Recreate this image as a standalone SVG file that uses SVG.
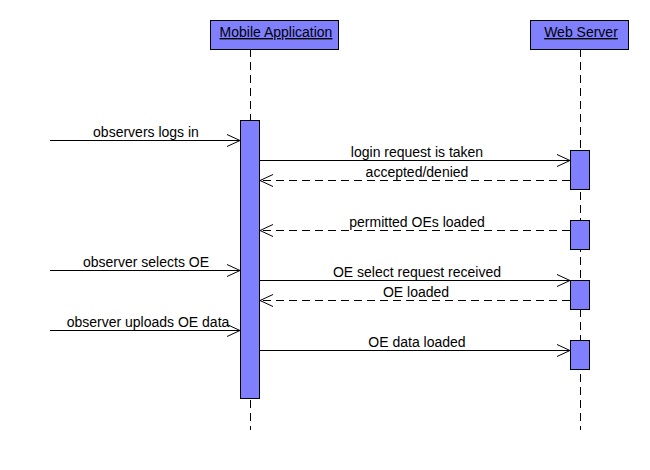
<svg xmlns="http://www.w3.org/2000/svg" width="650" height="470" viewBox="0 0 650 470">
<style>
.box{fill:#8080FF;stroke:#000;stroke-width:1}
.life{stroke:#000;stroke-width:1;stroke-dasharray:8 5;fill:none}
.msg{stroke:#000;stroke-width:1;fill:none}
.ret{stroke:#000;stroke-width:1;fill:none;stroke-dasharray:8 5}
.head{stroke:#000;stroke-width:1;fill:none}
text{font-family:"Liberation Sans",Arial,sans-serif;font-size:14px;fill:#000}
.lbl{text-anchor:middle}
.title{text-anchor:middle;text-decoration:underline}
</style>
<rect width="650" height="470" fill="#fff"/>
<g id="mobile">
<line class="life" x1="250.5" y1="49" x2="250.5" y2="430"/>
<rect class="box" x="210.5" y="20.5" width="128" height="29"/>
<text class="title" x="276" y="37">Mobile Application</text>
<rect class="box" x="240.5" y="120.5" width="19" height="278"/>
</g>
<g id="webserver">
<line class="life" x1="580.5" y1="49" x2="580.5" y2="430"/>
<rect class="box" x="530.5" y="20.5" width="98" height="29"/>
<text class="title" x="581" y="37">Web Server</text>
<rect class="box" x="570.5" y="150.5" width="19" height="39"/>
<rect class="box" x="570.5" y="220.5" width="19" height="29"/>
<rect class="box" x="570.5" y="280.5" width="19" height="29"/>
<rect class="box" x="570.5" y="340.5" width="19" height="29"/>
</g>
<g id="connectors">
<line class="msg" x1="50" y1="140.5" x2="240" y2="140.5"/>
<polyline class="head" points="227,134.5 240,140.5 227,146.5"/>
<text class="lbl" x="146" y="137">observers logs in</text>

<line class="msg" x1="260" y1="160.5" x2="570" y2="160.5"/>
<polyline class="head" points="557,154.5 570,160.5 557,166.5"/>
<text class="lbl" x="417" y="157">login request is taken</text>

<line class="ret" x1="570" y1="180.5" x2="260" y2="180.5"/>
<polyline class="head" points="273,174.5 260,180.5 273,186.5"/>
<text class="lbl" x="417" y="177">accepted/denied</text>

<line class="ret" x1="570" y1="230.5" x2="260" y2="230.5"/>
<polyline class="head" points="273,224.5 260,230.5 273,236.5"/>
<text class="lbl" x="417" y="227">permitted OEs loaded</text>

<line class="msg" x1="50" y1="270.5" x2="240" y2="270.5"/>
<polyline class="head" points="227,264.5 240,270.5 227,276.5"/>
<text class="lbl" x="146" y="267">observer selects OE</text>

<line class="msg" x1="260" y1="280.5" x2="570" y2="280.5"/>
<polyline class="head" points="557,274.5 570,280.5 557,286.5"/>
<text class="lbl" x="417" y="277">OE select request received</text>

<line class="ret" x1="570" y1="300.5" x2="260" y2="300.5"/>
<polyline class="head" points="273,294.5 260,300.5 273,306.5"/>
<text class="lbl" x="416" y="297">OE loaded</text>

<line class="msg" x1="50" y1="330.5" x2="240" y2="330.5"/>
<polyline class="head" points="227,324.5 240,330.5 227,336.5"/>
<text class="lbl" x="148" y="327">observer uploads OE data</text>

<line class="msg" x1="260" y1="350.5" x2="570" y2="350.5"/>
<polyline class="head" points="557,344.5 570,350.5 557,356.5"/>
<text class="lbl" x="417" y="347">OE data loaded</text>
</g>
</svg>
